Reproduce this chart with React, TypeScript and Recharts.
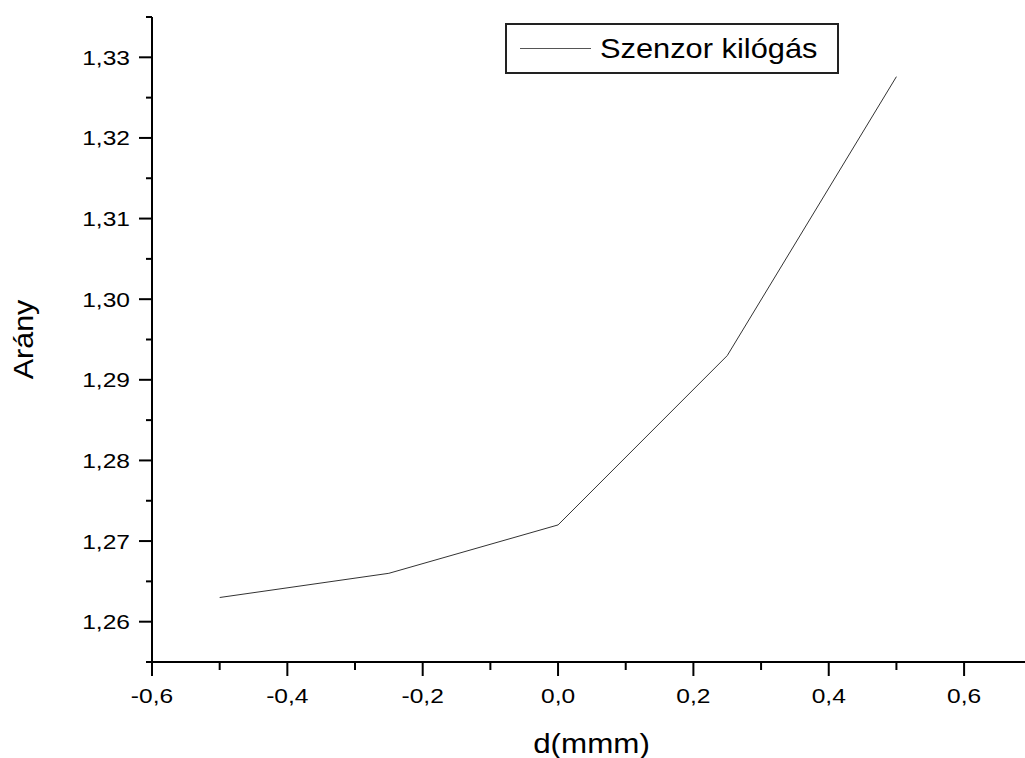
import { LineChart, Line, XAxis, YAxis, Legend, Label } from "recharts";

const dValues = [-0.5, -0.25, 0, 0.25, 0.5];
const ratioValues = [1.263, 1.266, 1.272, 1.293, 1.3276];
const seriesName = "Szenzor kilógás";

// tick positions (major + minor)
const xTicks = [-0.6, -0.5, -0.4, -0.3, -0.2, -0.1, 0, 0.1, 0.2, 0.3, 0.4, 0.5, 0.6];
const yTicks = [1.255, 1.26, 1.265, 1.27, 1.275, 1.28, 1.285, 1.29, 1.295, 1.3, 1.305, 1.31, 1.315, 1.32, 1.325, 1.33, 1.335];

const FONT = "'Liberation Sans', Arial, sans-serif";
// the original export is a bit stretched horizontally
const STRETCH = 1.17;

const chartData = dValues.map((d, i) => ({ d, ratio: ratioValues[i] }));

const comma = (v: number, digits: number) => v.toFixed(digits).replace(".", ",");

// x ticks: major every 0.2, minor in between, ticks pointing down
const XTick = (props: any) => {
  const { x, y, payload } = props;
  const v = payload.value as number;
  const major = Math.abs(Math.round(v * 10)) % 2 === 0;
  return (
    <g>
      <line x1={x} x2={x} y1={y} y2={y + (major ? 14 : 8)} stroke="#000" strokeWidth={2} />
      {major && (
        <text
          transform={`translate(${x} ${y + 41}) scale(${STRETCH} 1)`}
          textAnchor="middle"
          fontFamily={FONT}
          fontSize={21}
          fill="#000"
        >
          {comma(v, 1)}
        </text>
      )}
    </g>
  );
};

// y ticks: major every 0.01, minor every 0.005, ticks pointing left
const YTick = (props: any) => {
  const { x, y, payload } = props;
  const v = payload.value as number;
  const major = Math.round(v * 1000) % 10 === 0;
  return (
    <g>
      <line x1={x - (major ? 13 : 6)} x2={x} y1={y} y2={y} stroke="#000" strokeWidth={2} />
      {major && (
        <text
          transform={`translate(${x - 22} ${y + 7.5}) scale(${STRETCH} 1)`}
          textAnchor="end"
          fontFamily={FONT}
          fontSize={21}
          fill="#000"
        >
          {comma(v, 2)}
        </text>
      )}
    </g>
  );
};

const LegendBox = () => (
  <div
    style={{
      width: 330,
      height: 47,
      border: "2px solid #222",
      background: "#fff",
      display: "flex",
      alignItems: "center",
      fontFamily: FONT,
      fontSize: 28,
      color: "#000",
    }}
  >
    <div style={{ width: 71, height: 0, borderTop: "1px solid #555", marginLeft: 13, marginRight: 9 }} />
    <span style={{ display: "inline-block", transform: "scaleX(1.1)", transformOrigin: "left center", whiteSpace: "nowrap" }}>
      {seriesName}
    </span>
  </div>
);

export default function App() {
  return (
    <div style={{ position: "absolute", left: 0, top: 0, width: 1025, height: 758, background: "#fff" }}>
      <LineChart width={1025} height={758} data={chartData} margin={{ top: 17, right: 0, bottom: 0, left: 0 }}>
        <XAxis
          type="number"
          dataKey="d"
          domain={[-0.6, 0.69]}
          allowDataOverflow
          ticks={xTicks}
          interval={0}
          height={96}
          tickSize={0}
          tickMargin={0}
          tickLine={false}
          tick={<XTick />}
          axisLine={{ stroke: "#000", strokeWidth: 2 }}
        >
          <Label
            content={(p: any) => {
              const vb = p.viewBox;
              const cx = vb.x + vb.width / 2 + 3;
              return (
                <text
                  transform={`translate(${cx} ${vb.y + 91}) scale(1.12 1)`}
                  textAnchor="middle"
                  fontFamily={FONT}
                  fontSize={28}
                  fill="#000"
                >
                  d(mmm)
                </text>
              );
            }}
          />
        </XAxis>
        <YAxis
          type="number"
          domain={[1.255, 1.335]}
          allowDataOverflow
          ticks={yTicks}
          interval={0}
          width={152}
          tickSize={0}
          tickMargin={0}
          tickLine={false}
          tick={<YTick />}
          axisLine={{ stroke: "#000", strokeWidth: 2 }}
        >
          <Label
            content={(p: any) => {
              const vb = p.viewBox;
              const cx = vb.x + 33;
              const cy = vb.y + vb.height / 2;
              return (
                <text
                  transform={`translate(${cx} ${cy}) rotate(-90) scale(1.09 1)`}
                  textAnchor="middle"
                  fontFamily={FONT}
                  fontSize={28}
                  fill="#000"
                >
                  Arány
                </text>
              );
            }}
          />
        </YAxis>
        <Legend
          layout="horizontal"
          verticalAlign="middle"
          align="center"
          content={<LegendBox />}
          wrapperStyle={{ left: 505, top: 23, width: "auto" }}
        />
        <Line
          type="linear"
          dataKey="ratio"
          name={seriesName}
          stroke="#333"
          strokeWidth={1}
          dot={false}
          isAnimationActive={false}
        />
      </LineChart>
    </div>
  );
}
